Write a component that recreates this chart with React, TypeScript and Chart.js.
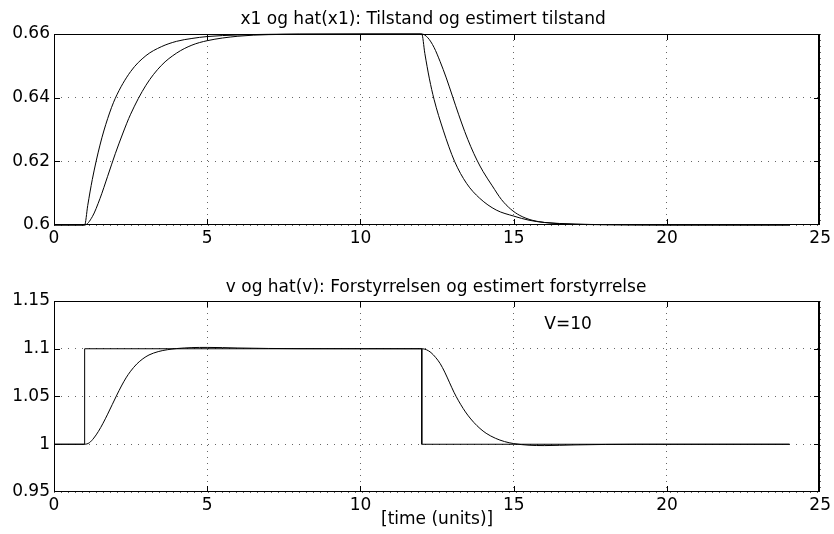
import React, { useEffect, useRef } from "react";
import { Chart, registerables } from "chart.js";

Chart.register(...registerables);

// ---------- data ----------
const TITLE_TOP = "x1 og hat(x1): Tilstand og estimert tilstand";
const TITLE_BOTTOM = "v og hat(v): Forstyrrelsen og estimert forstyrrelse";
const X_LABEL = "[time (units)]";

const X_TICKS = [0, 5, 10, 15, 20, 25];
const X_TICK_LABELS = ["0", "5", "10", "15", "20", "25"];
const Y1_TICKS = [0.6, 0.62, 0.64, 0.66];
const Y1_TICK_LABELS = ["0.6", "0.62", "0.64", "0.66"];
const Y2_TICKS = [0.95, 1, 1.05, 1.1, 1.15];
const Y2_TICK_LABELS = ["0.95", "1", "1.05", "1.1", "1.15"];

// x1 (fast state)
const X1_T = [0, 1, 1.1, 1.25, 1.5, 1.75, 2, 2.5, 3, 3.5, 4, 4.5, 5, 6, 7, 8, 12,
  12.1, 12.25, 12.4, 12.7, 13.07, 13.46, 13.89, 14.43, 15, 15.5, 16, 17, 18, 20, 24];
const X1_V = [0.6, 0.6, 0.6061, 0.6143, 0.6251, 0.6334, 0.6398, 0.6482, 0.6532, 0.656, 0.6577, 0.6586, 0.6592, 0.6597, 0.6599, 0.66, 0.66,
  0.6539, 0.6459, 0.6395, 0.6298, 0.62, 0.6131, 0.6084, 0.6047, 0.6028, 0.6015, 0.6008, 0.6003, 0.6001, 0.6, 0.6];

// hat(x1) (estimated state)
const HX1_T = [0, 1, 1.25, 1.5, 1.75, 2, 2.25, 2.5, 3, 3.5, 4, 4.5, 5, 6, 7, 8, 12,
  12.2, 12.4, 12.6, 12.8, 13, 13.2, 13.4, 13.6, 13.8, 14, 14.3, 14.6, 14.9, 15.2, 15.6, 16, 16.5, 17, 18, 20, 24];
const HX1_V = [0.6, 0.6, 0.6026, 0.6083, 0.6153, 0.6224, 0.6289, 0.6348, 0.6439, 0.6501, 0.654, 0.6565, 0.6579, 0.6593, 0.6598, 0.6599, 0.66,
  0.6588, 0.6558, 0.6513, 0.6462, 0.6405, 0.6348, 0.6294, 0.6246, 0.6204, 0.6168, 0.6123, 0.608, 0.605, 0.603, 0.6015, 0.6008, 0.6004, 0.6002, 0.6001, 0.6, 0.6];

// v (disturbance)
const V_T = [0, 1, 1, 12, 12, 24];
const V_V = [1, 1, 1.1, 1.1, 1, 1];

// hat(v) (estimated disturbance)
const HV_T = [0, 1, 1.15, 1.3, 1.45, 1.6, 1.75, 1.9, 2.05, 2.2, 2.35, 2.5, 2.7, 2.9, 3.1, 3.4, 3.7, 4, 4.5, 5, 5.5, 6, 7, 8, 12,
  12.15, 12.3, 12.45, 12.6, 12.75, 12.9, 13.05, 13.2, 13.35, 13.5, 13.7, 13.9, 14.1, 14.4, 14.7, 15, 15.5, 16, 16.5, 17, 18, 19, 24];
const HV_V = [1, 1, 1.0015, 1.0065, 1.0135, 1.022, 1.0315, 1.0415, 1.0515, 1.061, 1.0695, 1.0765, 1.084, 1.0895, 1.0935, 1.097, 1.099, 1.1002, 1.1012, 1.1014, 1.1012, 1.1008, 1.1003, 1.1001, 1.1,
  1.099, 1.096, 1.091, 1.0845, 1.0755, 1.065, 1.0545, 1.0455, 1.0375, 1.0305, 1.0228, 1.0165, 1.0115, 1.0063, 1.0028, 1.0007, 0.999, 0.9986, 0.9989, 0.9993, 0.9998, 1, 1];

const ANNOT_TEXT = "V=10";
const ANNOT_X = 16;
const ANNOT_Y = 1.125;

// ---------- helpers ----------
const FONT = "DejaVu Sans";
const FS = 17;

const pts = (t: number[], v: number[]) => t.map((x, i) => ({ x, y: v[i] }));

const framePlugin = {
  id: "frameTicks",
  afterDraw(chart: any) {
    const { ctx, chartArea: a, scales } = chart;
    const l = Math.round(a.left);
    const r = Math.round(a.right);
    const t = Math.round(a.top);
    const b = Math.round(a.bottom);
    const TL = 6;
    ctx.save();
    ctx.fillStyle = "#000";
    // box
    ctx.fillRect(l, t, r - l, 1);
    ctx.fillRect(l, b - 1, r - l, 1);
    ctx.fillRect(l, t, 1, b - t);
    ctx.fillRect(r - 2, t, 2, b - t);
    // inward ticks on all four sides
    for (const tk of scales.x.ticks) {
      const px = Math.min(r - 1, Math.max(l, Math.round(scales.x.getPixelForValue(tk.value))));
      ctx.fillRect(px, b - TL, 1, TL);
      ctx.fillRect(px, t, 1, TL);
    }
    for (const tk of scales.y.ticks) {
      const py = Math.min(b - 1, Math.max(t, Math.round(scales.y.getPixelForValue(tk.value))));
      ctx.fillRect(l, py, TL, 1);
      ctx.fillRect(r - TL, py, TL, 1);
    }
    ctx.restore();
  },
};

const titlePlugin = {
  id: "mTitle",
  afterDraw(chart: any, _args: any, opts: any) {
    const { ctx, chartArea: a } = chart;
    ctx.save();
    ctx.fillStyle = "#000";
    ctx.font = `${FS}px "${FONT}"`;
    ctx.textAlign = "center";
    ctx.textBaseline = "alphabetic";
    ctx.fillText(opts.text, (a.left + a.right) / 2 + opts.dx, opts.baseline);
    ctx.restore();
  },
};

const annotPlugin = {
  id: "annot",
  afterDatasetsDraw(chart: any) {
    const { ctx, scales } = chart;
    ctx.save();
    ctx.fillStyle = "#000";
    ctx.font = `${FS}px "${FONT}"`;
    ctx.textAlign = "left";
    ctx.textBaseline = "middle";
    ctx.fillText(ANNOT_TEXT, scales.x.getPixelForValue(ANNOT_X), scales.y.getPixelForValue(ANNOT_Y));
    ctx.restore();
  },
};

function makeConfig(
  title: string,
  titleDx: number,
  titleBaseline: number,
  datasets: any[],
  yMin: number,
  yMax: number,
  yTicks: number[],
  yLabels: string[],
  xTitle: string | null,
  extraPlugins: any[]
): any {
  return {
    type: "line",
    data: { datasets },
    plugins: [framePlugin, titlePlugin, ...extraPlugins],
    options: {
      animation: false,
      responsive: false,
      devicePixelRatio: 1,
      layout: { padding: { left: 0, right: 12, top: 34, bottom: 0 } },
      plugins: {
        legend: { display: false },
        tooltip: { enabled: false },
        title: { display: false },
        mTitle: { text: title, dx: titleDx, baseline: titleBaseline },
      },
      elements: { point: { radius: 0 } },
      scales: {
        x: {
          type: "linear",
          min: 0,
          max: 25,
          afterBuildTicks: (s: any) => { s.ticks = X_TICKS.map((v) => ({ value: v })); },
          afterFit: (s: any) => { s.height = 42; },
          ticks: {
            autoSkip: false,
            maxRotation: 0,
            padding: 3,
            color: "#000",
            font: { family: FONT, size: FS },
            callback: (_v: any, i: number) => X_TICK_LABELS[i],
          },
          grid: { color: "rgba(0,0,0,0.6)", lineWidth: 1, drawTicks: false },
          border: { display: false, dash: [1, 5] },
          title: xTitle
            ? {
                display: true,
                text: xTitle,
                color: "#000",
                font: { family: FONT, size: FS, lineHeight: 1.2 },
                padding: { top: 0, bottom: 4 },
              }
            : { display: false },
        },
        y: {
          type: "linear",
          min: yMin,
          max: yMax,
          afterBuildTicks: (s: any) => { s.ticks = yTicks.map((v) => ({ value: v })); },
          afterFit: (s: any) => { s.width = 54; },
          ticks: {
            autoSkip: false,
            padding: 4,
            color: "#000",
            font: { family: FONT, size: FS },
            callback: (_v: any, i: number) => yLabels[i],
          },
          grid: { color: "rgba(0,0,0,0.6)", lineWidth: 1, drawTicks: false },
          border: { display: false, dash: [1, 6] },
        },
      },
    },
  };
}

const lineDs = (data: any[], smooth: boolean) => ({
  data,
  borderColor: "#000",
  borderWidth: 1,
  pointRadius: 0,
  fill: false,
  clip: false,
  tension: 0,
  cubicInterpolationMode: smooth ? "monotone" : "default",
});

export default function App() {
  const topRef = useRef<HTMLCanvasElement>(null);
  const botRef = useRef<HTMLCanvasElement>(null);

  useEffect(() => {
    const top = new Chart(
      topRef.current as HTMLCanvasElement,
      makeConfig(
        TITLE_TOP,
        -14,
        23.5,
        [lineDs(pts(X1_T, X1_V), true), lineDs(pts(HX1_T, HX1_V), true)],
        0.6,
        0.66,
        Y1_TICKS,
        Y1_TICK_LABELS,
        null,
        []
      )
    );
    const bot = new Chart(
      botRef.current as HTMLCanvasElement,
      makeConfig(
        TITLE_BOTTOM,
        -1,
        24.5,
        [lineDs(pts(V_T, V_V), false), lineDs(pts(HV_T, HV_V), true)],
        0.95,
        1.15,
        Y2_TICKS,
        Y2_TICK_LABELS,
        X_LABEL,
        [annotPlugin]
      )
    );
    return () => {
      top.destroy();
      bot.destroy();
    };
  }, []);

  return (
    <div style={{ position: "fixed", left: 0, top: 0, width: 834, height: 534, background: "#fff" }}>
      <canvas ref={topRef} width={834} height={267} style={{ position: "absolute", left: 0, top: 0 }} />
      <canvas ref={botRef} width={834} height={267} style={{ position: "absolute", left: 0, top: 267 }} />
    </div>
  );
}
